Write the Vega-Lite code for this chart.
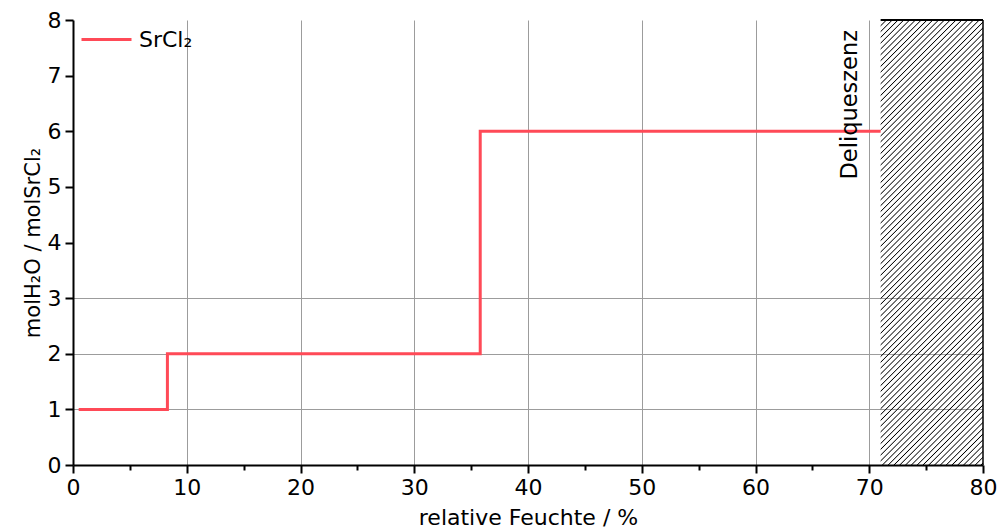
{
  "$schema": "https://vega.github.io/schema/vega-lite/v6.json",
  "width": 910,
  "height": 445,
  "autosize": "none",
  "padding": {"left": 73, "top": 20, "right": 17, "bottom": 65},
  "background": "white",
  "config": {
    "view": {"stroke": null},
    "font": "DejaVu Sans"
  },
  "datasets": {
    "steps": [
      {"rh": 0.5, "n": 1, "series": "SrCl₂"},
      {"rh": 8.3, "n": 2, "series": "SrCl₂"},
      {"rh": 35.8, "n": 6, "series": "SrCl₂"},
      {"rh": 71.0, "n": 6, "series": "SrCl₂"}
    ],
    "region": [
      {"start": 71.0, "end": 80, "bottom": 0, "top": 8, "label": "Deliqueszenz"}
    ]
  },
  "layer": [
    {
      "data": {"name": "region"},
      "mark": {
        "type": "rect",
        "fill": {
          "gradient": "linear",
          "x1": 0, "y1": 0, "x2": 0.2688, "y2": 1.1682,
          "stops": [
            {"offset": 0, "color": "rgba(0,0,0,0)"},
            {"offset": 0.0086, "color": "rgba(0,0,0,0)"}, {"offset": 0.0106, "color": "#000"}, {"offset": 0.0126, "color": "rgba(0,0,0,0)"},
            {"offset": 0.0192, "color": "rgba(0,0,0,0)"}, {"offset": 0.0212, "color": "#000"}, {"offset": 0.0232, "color": "rgba(0,0,0,0)"},
            {"offset": 0.0298, "color": "rgba(0,0,0,0)"}, {"offset": 0.0318, "color": "#000"}, {"offset": 0.0338, "color": "rgba(0,0,0,0)"},
            {"offset": 0.0404, "color": "rgba(0,0,0,0)"}, {"offset": 0.0424, "color": "#000"}, {"offset": 0.0444, "color": "rgba(0,0,0,0)"},
            {"offset": 0.0510, "color": "rgba(0,0,0,0)"}, {"offset": 0.0530, "color": "#000"}, {"offset": 0.0550, "color": "rgba(0,0,0,0)"},
            {"offset": 0.0616, "color": "rgba(0,0,0,0)"}, {"offset": 0.0636, "color": "#000"}, {"offset": 0.0656, "color": "rgba(0,0,0,0)"},
            {"offset": 0.0722, "color": "rgba(0,0,0,0)"}, {"offset": 0.0742, "color": "#000"}, {"offset": 0.0762, "color": "rgba(0,0,0,0)"},
            {"offset": 0.0828, "color": "rgba(0,0,0,0)"}, {"offset": 0.0848, "color": "#000"}, {"offset": 0.0868, "color": "rgba(0,0,0,0)"},
            {"offset": 0.0934, "color": "rgba(0,0,0,0)"}, {"offset": 0.0954, "color": "#000"}, {"offset": 0.0974, "color": "rgba(0,0,0,0)"},
            {"offset": 0.1040, "color": "rgba(0,0,0,0)"}, {"offset": 0.1060, "color": "#000"}, {"offset": 0.1080, "color": "rgba(0,0,0,0)"},
            {"offset": 0.1146, "color": "rgba(0,0,0,0)"}, {"offset": 0.1166, "color": "#000"}, {"offset": 0.1186, "color": "rgba(0,0,0,0)"},
            {"offset": 0.1252, "color": "rgba(0,0,0,0)"}, {"offset": 0.1272, "color": "#000"}, {"offset": 0.1292, "color": "rgba(0,0,0,0)"},
            {"offset": 0.1358, "color": "rgba(0,0,0,0)"}, {"offset": 0.1378, "color": "#000"}, {"offset": 0.1398, "color": "rgba(0,0,0,0)"},
            {"offset": 0.1464, "color": "rgba(0,0,0,0)"}, {"offset": 0.1484, "color": "#000"}, {"offset": 0.1504, "color": "rgba(0,0,0,0)"},
            {"offset": 0.1570, "color": "rgba(0,0,0,0)"}, {"offset": 0.1590, "color": "#000"}, {"offset": 0.1610, "color": "rgba(0,0,0,0)"},
            {"offset": 0.1676, "color": "rgba(0,0,0,0)"}, {"offset": 0.1696, "color": "#000"}, {"offset": 0.1716, "color": "rgba(0,0,0,0)"},
            {"offset": 0.1782, "color": "rgba(0,0,0,0)"}, {"offset": 0.1802, "color": "#000"}, {"offset": 0.1822, "color": "rgba(0,0,0,0)"},
            {"offset": 0.1888, "color": "rgba(0,0,0,0)"}, {"offset": 0.1908, "color": "#000"}, {"offset": 0.1928, "color": "rgba(0,0,0,0)"},
            {"offset": 0.1994, "color": "rgba(0,0,0,0)"}, {"offset": 0.2014, "color": "#000"}, {"offset": 0.2034, "color": "rgba(0,0,0,0)"},
            {"offset": 0.2100, "color": "rgba(0,0,0,0)"}, {"offset": 0.2120, "color": "#000"}, {"offset": 0.2140, "color": "rgba(0,0,0,0)"},
            {"offset": 0.2206, "color": "rgba(0,0,0,0)"}, {"offset": 0.2226, "color": "#000"}, {"offset": 0.2246, "color": "rgba(0,0,0,0)"},
            {"offset": 0.2312, "color": "rgba(0,0,0,0)"}, {"offset": 0.2332, "color": "#000"}, {"offset": 0.2352, "color": "rgba(0,0,0,0)"},
            {"offset": 0.2418, "color": "rgba(0,0,0,0)"}, {"offset": 0.2438, "color": "#000"}, {"offset": 0.2458, "color": "rgba(0,0,0,0)"},
            {"offset": 0.2524, "color": "rgba(0,0,0,0)"}, {"offset": 0.2544, "color": "#000"}, {"offset": 0.2564, "color": "rgba(0,0,0,0)"},
            {"offset": 0.2630, "color": "rgba(0,0,0,0)"}, {"offset": 0.2650, "color": "#000"}, {"offset": 0.2670, "color": "rgba(0,0,0,0)"},
            {"offset": 0.2736, "color": "rgba(0,0,0,0)"}, {"offset": 0.2756, "color": "#000"}, {"offset": 0.2776, "color": "rgba(0,0,0,0)"},
            {"offset": 0.2842, "color": "rgba(0,0,0,0)"}, {"offset": 0.2862, "color": "#000"}, {"offset": 0.2882, "color": "rgba(0,0,0,0)"},
            {"offset": 0.2948, "color": "rgba(0,0,0,0)"}, {"offset": 0.2968, "color": "#000"}, {"offset": 0.2988, "color": "rgba(0,0,0,0)"},
            {"offset": 0.3054, "color": "rgba(0,0,0,0)"}, {"offset": 0.3074, "color": "#000"}, {"offset": 0.3094, "color": "rgba(0,0,0,0)"},
            {"offset": 0.3160, "color": "rgba(0,0,0,0)"}, {"offset": 0.3180, "color": "#000"}, {"offset": 0.3200, "color": "rgba(0,0,0,0)"},
            {"offset": 0.3266, "color": "rgba(0,0,0,0)"}, {"offset": 0.3286, "color": "#000"}, {"offset": 0.3306, "color": "rgba(0,0,0,0)"},
            {"offset": 0.3372, "color": "rgba(0,0,0,0)"}, {"offset": 0.3392, "color": "#000"}, {"offset": 0.3412, "color": "rgba(0,0,0,0)"},
            {"offset": 0.3478, "color": "rgba(0,0,0,0)"}, {"offset": 0.3498, "color": "#000"}, {"offset": 0.3518, "color": "rgba(0,0,0,0)"},
            {"offset": 0.3584, "color": "rgba(0,0,0,0)"}, {"offset": 0.3604, "color": "#000"}, {"offset": 0.3624, "color": "rgba(0,0,0,0)"},
            {"offset": 0.3690, "color": "rgba(0,0,0,0)"}, {"offset": 0.3710, "color": "#000"}, {"offset": 0.3730, "color": "rgba(0,0,0,0)"},
            {"offset": 0.3796, "color": "rgba(0,0,0,0)"}, {"offset": 0.3816, "color": "#000"}, {"offset": 0.3836, "color": "rgba(0,0,0,0)"},
            {"offset": 0.3902, "color": "rgba(0,0,0,0)"}, {"offset": 0.3922, "color": "#000"}, {"offset": 0.3942, "color": "rgba(0,0,0,0)"},
            {"offset": 0.4008, "color": "rgba(0,0,0,0)"}, {"offset": 0.4028, "color": "#000"}, {"offset": 0.4048, "color": "rgba(0,0,0,0)"},
            {"offset": 0.4114, "color": "rgba(0,0,0,0)"}, {"offset": 0.4134, "color": "#000"}, {"offset": 0.4154, "color": "rgba(0,0,0,0)"},
            {"offset": 0.4220, "color": "rgba(0,0,0,0)"}, {"offset": 0.4240, "color": "#000"}, {"offset": 0.4260, "color": "rgba(0,0,0,0)"},
            {"offset": 0.4326, "color": "rgba(0,0,0,0)"}, {"offset": 0.4346, "color": "#000"}, {"offset": 0.4366, "color": "rgba(0,0,0,0)"},
            {"offset": 0.4432, "color": "rgba(0,0,0,0)"}, {"offset": 0.4452, "color": "#000"}, {"offset": 0.4472, "color": "rgba(0,0,0,0)"},
            {"offset": 0.4538, "color": "rgba(0,0,0,0)"}, {"offset": 0.4558, "color": "#000"}, {"offset": 0.4578, "color": "rgba(0,0,0,0)"},
            {"offset": 0.4644, "color": "rgba(0,0,0,0)"}, {"offset": 0.4664, "color": "#000"}, {"offset": 0.4684, "color": "rgba(0,0,0,0)"},
            {"offset": 0.4750, "color": "rgba(0,0,0,0)"}, {"offset": 0.4770, "color": "#000"}, {"offset": 0.4790, "color": "rgba(0,0,0,0)"},
            {"offset": 0.4856, "color": "rgba(0,0,0,0)"}, {"offset": 0.4876, "color": "#000"}, {"offset": 0.4896, "color": "rgba(0,0,0,0)"},
            {"offset": 0.4962, "color": "rgba(0,0,0,0)"}, {"offset": 0.4982, "color": "#000"}, {"offset": 0.5002, "color": "rgba(0,0,0,0)"},
            {"offset": 0.5068, "color": "rgba(0,0,0,0)"}, {"offset": 0.5088, "color": "#000"}, {"offset": 0.5108, "color": "rgba(0,0,0,0)"},
            {"offset": 0.5174, "color": "rgba(0,0,0,0)"}, {"offset": 0.5194, "color": "#000"}, {"offset": 0.5214, "color": "rgba(0,0,0,0)"},
            {"offset": 0.5280, "color": "rgba(0,0,0,0)"}, {"offset": 0.5300, "color": "#000"}, {"offset": 0.5320, "color": "rgba(0,0,0,0)"},
            {"offset": 0.5386, "color": "rgba(0,0,0,0)"}, {"offset": 0.5406, "color": "#000"}, {"offset": 0.5426, "color": "rgba(0,0,0,0)"},
            {"offset": 0.5492, "color": "rgba(0,0,0,0)"}, {"offset": 0.5512, "color": "#000"}, {"offset": 0.5532, "color": "rgba(0,0,0,0)"},
            {"offset": 0.5598, "color": "rgba(0,0,0,0)"}, {"offset": 0.5618, "color": "#000"}, {"offset": 0.5638, "color": "rgba(0,0,0,0)"},
            {"offset": 0.5704, "color": "rgba(0,0,0,0)"}, {"offset": 0.5724, "color": "#000"}, {"offset": 0.5744, "color": "rgba(0,0,0,0)"},
            {"offset": 0.5810, "color": "rgba(0,0,0,0)"}, {"offset": 0.5830, "color": "#000"}, {"offset": 0.5850, "color": "rgba(0,0,0,0)"},
            {"offset": 0.5916, "color": "rgba(0,0,0,0)"}, {"offset": 0.5936, "color": "#000"}, {"offset": 0.5956, "color": "rgba(0,0,0,0)"},
            {"offset": 0.6022, "color": "rgba(0,0,0,0)"}, {"offset": 0.6042, "color": "#000"}, {"offset": 0.6062, "color": "rgba(0,0,0,0)"},
            {"offset": 0.6128, "color": "rgba(0,0,0,0)"}, {"offset": 0.6148, "color": "#000"}, {"offset": 0.6168, "color": "rgba(0,0,0,0)"},
            {"offset": 0.6234, "color": "rgba(0,0,0,0)"}, {"offset": 0.6254, "color": "#000"}, {"offset": 0.6274, "color": "rgba(0,0,0,0)"},
            {"offset": 0.6340, "color": "rgba(0,0,0,0)"}, {"offset": 0.6360, "color": "#000"}, {"offset": 0.6380, "color": "rgba(0,0,0,0)"},
            {"offset": 0.6446, "color": "rgba(0,0,0,0)"}, {"offset": 0.6466, "color": "#000"}, {"offset": 0.6486, "color": "rgba(0,0,0,0)"},
            {"offset": 0.6552, "color": "rgba(0,0,0,0)"}, {"offset": 0.6572, "color": "#000"}, {"offset": 0.6592, "color": "rgba(0,0,0,0)"},
            {"offset": 0.6658, "color": "rgba(0,0,0,0)"}, {"offset": 0.6678, "color": "#000"}, {"offset": 0.6698, "color": "rgba(0,0,0,0)"},
            {"offset": 0.6764, "color": "rgba(0,0,0,0)"}, {"offset": 0.6784, "color": "#000"}, {"offset": 0.6804, "color": "rgba(0,0,0,0)"},
            {"offset": 0.6870, "color": "rgba(0,0,0,0)"}, {"offset": 0.6890, "color": "#000"}, {"offset": 0.6910, "color": "rgba(0,0,0,0)"},
            {"offset": 0.6976, "color": "rgba(0,0,0,0)"}, {"offset": 0.6996, "color": "#000"}, {"offset": 0.7016, "color": "rgba(0,0,0,0)"},
            {"offset": 0.7082, "color": "rgba(0,0,0,0)"}, {"offset": 0.7102, "color": "#000"}, {"offset": 0.7122, "color": "rgba(0,0,0,0)"},
            {"offset": 0.7188, "color": "rgba(0,0,0,0)"}, {"offset": 0.7208, "color": "#000"}, {"offset": 0.7228, "color": "rgba(0,0,0,0)"},
            {"offset": 0.7294, "color": "rgba(0,0,0,0)"}, {"offset": 0.7314, "color": "#000"}, {"offset": 0.7334, "color": "rgba(0,0,0,0)"},
            {"offset": 0.7400, "color": "rgba(0,0,0,0)"}, {"offset": 0.7420, "color": "#000"}, {"offset": 0.7440, "color": "rgba(0,0,0,0)"},
            {"offset": 0.7506, "color": "rgba(0,0,0,0)"}, {"offset": 0.7526, "color": "#000"}, {"offset": 0.7546, "color": "rgba(0,0,0,0)"},
            {"offset": 0.7612, "color": "rgba(0,0,0,0)"}, {"offset": 0.7632, "color": "#000"}, {"offset": 0.7652, "color": "rgba(0,0,0,0)"},
            {"offset": 0.7718, "color": "rgba(0,0,0,0)"}, {"offset": 0.7738, "color": "#000"}, {"offset": 0.7758, "color": "rgba(0,0,0,0)"},
            {"offset": 0.7824, "color": "rgba(0,0,0,0)"}, {"offset": 0.7844, "color": "#000"}, {"offset": 0.7864, "color": "rgba(0,0,0,0)"},
            {"offset": 0.7930, "color": "rgba(0,0,0,0)"}, {"offset": 0.7950, "color": "#000"}, {"offset": 0.7970, "color": "rgba(0,0,0,0)"},
            {"offset": 0.8036, "color": "rgba(0,0,0,0)"}, {"offset": 0.8056, "color": "#000"}, {"offset": 0.8076, "color": "rgba(0,0,0,0)"},
            {"offset": 0.8142, "color": "rgba(0,0,0,0)"}, {"offset": 0.8162, "color": "#000"}, {"offset": 0.8182, "color": "rgba(0,0,0,0)"},
            {"offset": 0.8248, "color": "rgba(0,0,0,0)"}, {"offset": 0.8268, "color": "#000"}, {"offset": 0.8288, "color": "rgba(0,0,0,0)"},
            {"offset": 0.8354, "color": "rgba(0,0,0,0)"}, {"offset": 0.8374, "color": "#000"}, {"offset": 0.8394, "color": "rgba(0,0,0,0)"},
            {"offset": 0.8460, "color": "rgba(0,0,0,0)"}, {"offset": 0.8480, "color": "#000"}, {"offset": 0.8500, "color": "rgba(0,0,0,0)"},
            {"offset": 0.8566, "color": "rgba(0,0,0,0)"}, {"offset": 0.8586, "color": "#000"}, {"offset": 0.8606, "color": "rgba(0,0,0,0)"},
            {"offset": 0.8672, "color": "rgba(0,0,0,0)"}, {"offset": 0.8692, "color": "#000"}, {"offset": 0.8712, "color": "rgba(0,0,0,0)"},
            {"offset": 0.8778, "color": "rgba(0,0,0,0)"}, {"offset": 0.8798, "color": "#000"}, {"offset": 0.8818, "color": "rgba(0,0,0,0)"},
            {"offset": 0.8884, "color": "rgba(0,0,0,0)"}, {"offset": 0.8904, "color": "#000"}, {"offset": 0.8924, "color": "rgba(0,0,0,0)"},
            {"offset": 0.8990, "color": "rgba(0,0,0,0)"}, {"offset": 0.9010, "color": "#000"}, {"offset": 0.9030, "color": "rgba(0,0,0,0)"},
            {"offset": 0.9096, "color": "rgba(0,0,0,0)"}, {"offset": 0.9116, "color": "#000"}, {"offset": 0.9136, "color": "rgba(0,0,0,0)"},
            {"offset": 0.9202, "color": "rgba(0,0,0,0)"}, {"offset": 0.9222, "color": "#000"}, {"offset": 0.9242, "color": "rgba(0,0,0,0)"},
            {"offset": 0.9308, "color": "rgba(0,0,0,0)"}, {"offset": 0.9328, "color": "#000"}, {"offset": 0.9348, "color": "rgba(0,0,0,0)"},
            {"offset": 0.9414, "color": "rgba(0,0,0,0)"}, {"offset": 0.9434, "color": "#000"}, {"offset": 0.9454, "color": "rgba(0,0,0,0)"},
            {"offset": 0.9520, "color": "rgba(0,0,0,0)"}, {"offset": 0.9540, "color": "#000"}, {"offset": 0.9560, "color": "rgba(0,0,0,0)"},
            {"offset": 0.9626, "color": "rgba(0,0,0,0)"}, {"offset": 0.9646, "color": "#000"}, {"offset": 0.9666, "color": "rgba(0,0,0,0)"},
            {"offset": 0.9732, "color": "rgba(0,0,0,0)"}, {"offset": 0.9752, "color": "#000"}, {"offset": 0.9772, "color": "rgba(0,0,0,0)"},
            {"offset": 0.9838, "color": "rgba(0,0,0,0)"}, {"offset": 0.9858, "color": "#000"}, {"offset": 0.9878, "color": "rgba(0,0,0,0)"},
            {"offset": 0.9944, "color": "rgba(0,0,0,0)"}, {"offset": 0.9964, "color": "#000"}, {"offset": 0.9984, "color": "rgba(0,0,0,0)"},
            {"offset": 1, "color": "rgba(0,0,0,0)"}
          ]
        }
      },
      "encoding": {
        "x": {"field": "start", "type": "quantitative", "scale": {"domain": [0, 80], "nice": false, "zero": false}},
        "x2": {"field": "end"},
        "y": {"field": "bottom", "type": "quantitative", "scale": {"domain": [0, 8], "nice": false, "zero": false}},
        "y2": {"field": "top"}
      }
    },
    {
      "data": {"name": "region"},
      "mark": {"type": "rule", "color": "#000", "strokeWidth": 2},
      "encoding": {
        "x": {"field": "start", "type": "quantitative"},
        "x2": {"field": "end"},
        "y": {"field": "top", "type": "quantitative"}
      }
    },
    {
      "data": {"name": "region"},
      "mark": {"type": "rule", "color": "#000", "strokeWidth": 1.5},
      "encoding": {
        "x": {"field": "end", "type": "quantitative"},
        "y": {"field": "bottom", "type": "quantitative"},
        "y2": {"field": "top"}
      }
    },
    {
      "data": {"name": "steps"},
      "mark": {"type": "line", "interpolate": "step-after", "strokeWidth": 3},
      "encoding": {
        "x": {
          "field": "rh",
          "type": "quantitative",
          "scale": {"domain": [0, 80], "nice": false, "zero": false},
          "axis": {
            "title": "relative Feuchte / %",
            "values": [0, 5, 10, 15, 20, 25, 30, 35, 40, 45, 50, 55, 60, 65, 70, 75, 80],
            "format": "d",
            "labelExpr": "datum.value % 10 === 0 ? datum.label : ''",
            "grid": true,
            "gridColor": "#9c9c9c",
            "gridWidth": 1,
            "gridOpacity": {"condition": {"test": "datum.value % 10 === 0 && datum.value > 0 && datum.value < 80", "value": 1}, "value": 0},
            "domainColor": "#000",
            "domainWidth": 2,
            "tickColor": "#000",
            "tickWidth": 2,
            "tickSize": {"condition": {"test": "datum.value % 10 === 0", "value": 8}, "value": 5},
            "labelFont": "DejaVu Sans",
            "labelFontSize": 22,
            "labelColor": "#000",
            "labelPadding": 4,
            "labelFlush": false,
            "labelOverlap": false,
            "titleFont": "DejaVu Sans",
            "titleFontSize": 22,
            "titleFontWeight": "normal",
            "titleColor": "#000",
            "titlePadding": 9
          }
        },
        "y": {
          "field": "n",
          "type": "quantitative",
          "scale": {"domain": [0, 8], "nice": false, "zero": false},
          "axis": {
            "title": "molH₂O / molSrCl₂",
            "values": [0, 0.5, 1, 1.5, 2, 2.5, 3, 3.5, 4, 4.5, 5, 5.5, 6, 6.5, 7, 7.5, 8],
            "format": "d",
            "labelExpr": "datum.value % 1 === 0 ? datum.label : ''",
            "grid": true,
            "gridColor": "#9c9c9c",
            "gridWidth": 1,
            "gridOpacity": {"condition": {"test": "datum.value % 1 === 0 && datum.value > 0 && datum.value <= 3", "value": 1}, "value": 0},
            "domainColor": "#000",
            "domainWidth": 2,
            "tickColor": "#000",
            "tickWidth": 2,
            "tickSize": {"condition": {"test": "datum.value % 1 === 0", "value": 8}, "value": 5},
            "labelFont": "DejaVu Sans",
            "labelFontSize": 22,
            "labelColor": "#000",
            "labelPadding": 4,
            "labelFlush": false,
            "labelOverlap": false,
            "titleFont": "DejaVu Sans",
            "titleFontSize": 21,
            "titleFontWeight": "normal",
            "titleColor": "#000",
            "titlePadding": 4
          }
        },
        "color": {
          "field": "series",
          "type": "nominal",
          "scale": {"range": ["#ff4a57"]},
          "legend": {
            "title": null,
            "orient": "none",
            "legendX": 7,
            "legendY": -7,
            "padding": 0,
            "symbolType": "stroke",
            "symbolSize": 2500,
            "symbolStrokeWidth": 3,
            "labelFont": "DejaVu Sans",
            "labelFontSize": 22,
            "labelColor": "#000",
            "labelOffset": 6
          }
        }
      }
    },
    {
      "data": {"name": "region"},
      "mark": {
        "type": "text",
        "angle": 270,
        "align": "right",
        "baseline": "alphabetic",
        "dx": -10,
        "dy": -24,
        "font": "DejaVu Sans",
        "fontSize": 22.5,
        "color": "#000"
      },
      "encoding": {
        "x": {"field": "start", "type": "quantitative"},
        "y": {"field": "top", "type": "quantitative"},
        "text": {"field": "label"}
      }
    }
  ]
}
